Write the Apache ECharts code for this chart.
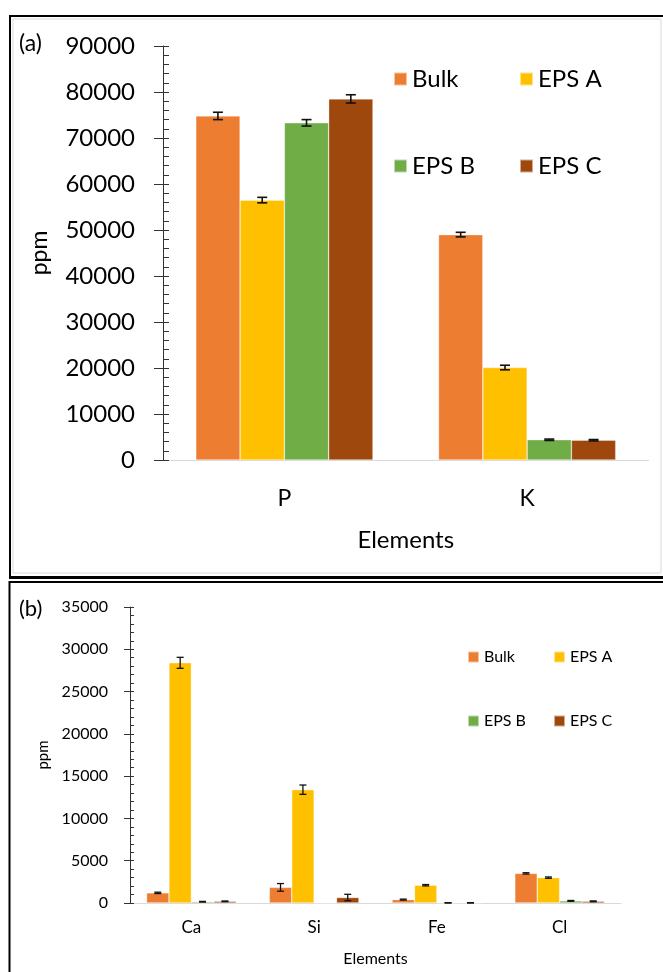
<!DOCTYPE html>
<html>
<head>
<meta charset="utf-8">
<script src="https://cdn.jsdelivr.net/npm/echarts@6/dist/echarts.min.js"></script>
<style>
  html, body { margin: 0; padding: 0; background: #fff; }
  #chart { width: 663px; height: 972px; }
</style>
</head>
<body>
<div id="chart"></div>
<script>
// Series shared by both panels
const seriesNames = ['Bulk', 'EPS A', 'EPS B', 'EPS C'];
const seriesColors = ['#ED7D31', '#FFC000', '#70AD47', '#9E480E'];

// (a) major elements, ppm
const majorElements = ['P', 'K'];
const majorBulk = [74800, 49000];
const majorEpsA = [56500, 20100];
const majorEpsB = [73300, 4400];
const majorEpsC = [78500, 4300];
const majorErrBulk = [800, 500];
const majorErrEpsA = [600, 500];
const majorErrEpsB = [700, 150];
const majorErrEpsC = [900, 150];

// (b) minor elements, ppm
const minorElements = ['Ca', 'Si', 'Fe', 'Cl'];
const minorBulk = [1200, 1850, 400, 3500];
const minorEpsA = [28400, 13400, 2100, 3000];
const minorEpsB = [150, 0, 20, 250];
const minorEpsC = [200, 650, 20, 200];
const minorErrBulk = [80, 450, 60, 80];
const minorErrEpsA = [650, 550, 80, 80];
const minorErrEpsB = [40, 0, 20, 50];
const minorErrEpsC = [40, 380, 20, 50];

const FONT = 'Lato';
const CAT_GAP = 0.27;

const majorValues = [majorBulk, majorEpsA, majorEpsB, majorEpsC];
const majorErrors = [majorErrBulk, majorErrEpsA, majorErrEpsB, majorErrEpsC];
const minorValues = [minorBulk, minorEpsA, minorEpsB, minorEpsC];
const minorErrors = [minorErrBulk, minorErrEpsA, minorErrEpsB, minorErrEpsC];

// rows of [categoryIndex, seriesIndex, value, error] for the error-bar layer
function errorRows(values, errors) {
  const rows = [];
  values.forEach((vals, k) => {
    vals.forEach((v, i) => rows.push([i, k, v, errors[k][i]]));
  });
  return rows;
}

function errorBarRenderer(capHalf, lineWidth) {
  return function (params, api) {
    const cat = api.value(0), k = api.value(1), v = api.value(2), e = api.value(3);
    if (!e) return null;
    const band = api.size([1, 0])[0];
    const bw = band * (1 - CAT_GAP) / 4;
    const dx = (k - 1.5) * bw;
    const top = api.coord([cat, v + e]);
    const bot = api.coord([cat, Math.max(v - e, 0)]);
    const x = top[0] + dx;
    const style = { stroke: '#111', lineWidth: lineWidth };
    return {
      type: 'group',
      children: [
        { type: 'line', shape: { x1: x, y1: top[1], x2: x, y2: bot[1] }, style: style },
        { type: 'line', shape: { x1: x - capHalf, y1: top[1], x2: x + capHalf, y2: top[1] }, style: style },
        { type: 'line', shape: { x1: x - capHalf, y1: bot[1], x2: x + capHalf, y2: bot[1] }, style: style }
      ]
    };
  };
}

function barSeries(values, axisIdx) {
  return values.map((vals, k) => ({
    type: 'bar',
    name: seriesNames[k],
    xAxisIndex: axisIdx,
    yAxisIndex: axisIdx * 2,
    data: vals,
    barGap: '0%',
    barCategoryGap: (CAT_GAP * 100) + '%',
    itemStyle: { color: seriesColors[k], borderColor: 'rgba(255,255,255,0.55)', borderWidth: 0.6 },
    emphasis: { disabled: true }
  }));
}

function valueAxes(gridIdx, max, interval, fontSize, margin, name, nameSize, nameGap, inLen, outLen) {
  return [
    {
      type: 'value', gridIndex: gridIdx, position: 'left', offset: 0,
      min: 0, max: max, interval: interval,
      name: name, nameLocation: 'middle', nameGap: nameGap, nameRotate: 90,
      nameTextStyle: { fontFamily: FONT, fontSize: nameSize, color: '#000' },
      axisLine: { show: true, lineStyle: { color: '#333', width: 1 } },
      axisTick: { show: true, inside: true, length: inLen, lineStyle: { color: '#333' } },
      minorTick: { show: true, splitNumber: 5, length: inLen, lineStyle: { color: '#333' } },
      splitLine: { show: false },
      axisLabel: { fontFamily: FONT, fontSize: fontSize, color: '#000', margin: margin,
                   formatter: v => String(v) }
    },
    {
      // outer half of the crossing major ticks
      type: 'value', gridIndex: gridIdx, position: 'left', offset: 0,
      min: 0, max: max, interval: interval,
      axisLine: { show: false },
      axisTick: { show: true, inside: false, length: outLen, lineStyle: { color: '#333' } },
      splitLine: { show: false },
      axisLabel: { show: false }
    }
  ];
}

function categoryAxis(gridIdx, data, fontSize, margin, nameSize, nameGap) {
  return {
    type: 'category', gridIndex: gridIdx, data: data,
    name: 'Elements', nameLocation: 'middle', nameGap: nameGap,
    nameTextStyle: { fontFamily: FONT, fontSize: nameSize, color: '#000' },
    axisLine: { show: true, lineStyle: { color: '#d9d9d9', width: 1.2 } },
    axisTick: { show: false },
    axisLabel: { fontFamily: FONT, fontSize: fontSize, color: '#000', margin: margin }
  };
}

function legendItem(name, left, top, fontSize, icon) {
  return {
    data: [name], left: left, top: top,
    icon: 'rect', itemWidth: icon, itemHeight: icon,
    selectedMode: false,
    textStyle: { fontFamily: FONT, fontSize: fontSize, color: '#000' }
  };
}

const chart = echarts.init(document.getElementById('chart'), null, { renderer: 'canvas' });

chart.setOption({
  animation: false,
  backgroundColor: '#fff',
  grid: [
    { left: 163, right: 14.5, top: 46, bottom: 512 },
    { left: 130, right: 42, top: 607, bottom: 69 }
  ],
  xAxis: [
    categoryAxis(0, majorElements, 23, 27, 24, 68),
    categoryAxis(1, minorElements, 17, 16, 16, 48)
  ],
  yAxis: [
    ...valueAxes(0, 90000, 10000, 24, 28, 'ppm', 23, 112, 6, 9),
    ...valueAxes(1, 35000, 5000, 16, 22, 'ppm', 15, 52, 4, 6)
  ],
  legend: [
    legendItem('Bulk', 388, 62, 24, 13),
    legendItem('EPS A', 514, 62, 24, 13),
    legendItem('EPS B', 388, 149, 24, 13),
    legendItem('EPS C', 514, 149, 24, 13),
    legendItem('Bulk', 462, 644, 16, 11),
    legendItem('EPS A', 548, 644, 16, 11),
    legendItem('EPS B', 462, 708, 16, 11),
    legendItem('EPS C', 548, 708, 16, 11)
  ],
  series: [
    ...barSeries(majorValues, 0),
    ...barSeries(minorValues, 1),
    {
      type: 'custom', xAxisIndex: 0, yAxisIndex: 0, z: 5,
      renderItem: errorBarRenderer(5, 1.6),
      encode: { x: 0, y: 2 },
      data: errorRows(majorValues, majorErrors)
    },
    {
      type: 'custom', xAxisIndex: 1, yAxisIndex: 2, z: 5,
      renderItem: errorBarRenderer(3.5, 1.3),
      encode: { x: 0, y: 2 },
      data: errorRows(minorValues, minorErrors)
    }
  ],
  graphic: [
    // panel frames
    { type: 'rect', shape: { x: 10, y: 16, width: 660, height: 561 }, style: { fill: 'none', stroke: '#000', lineWidth: 2 }, silent: true },
    { type: 'rect', shape: { x: 13, y: 19, width: 648, height: 554 }, style: { fill: 'none', stroke: '#d9d9d9', lineWidth: 1 }, silent: true },
    { type: 'rect', shape: { x: 9.5, y: 582, width: 660, height: 400 }, style: { fill: 'none', stroke: '#000', lineWidth: 2 }, silent: true },
    { type: 'line', shape: { x1: 9, y1: 578.5, x2: 663, y2: 578.5 }, style: { stroke: '#000', lineWidth: 1 }, silent: true },
    // panel letters
    { type: 'text', left: 19, top: 32, style: { text: '(a)', fontFamily: FONT, fontSize: 23, fill: '#000' } },
    { type: 'text', left: 19, top: 598, style: { text: '(b)', fontFamily: FONT, fontSize: 22, fill: '#000' } }
  ]
});
</script>
</body>
</html>
